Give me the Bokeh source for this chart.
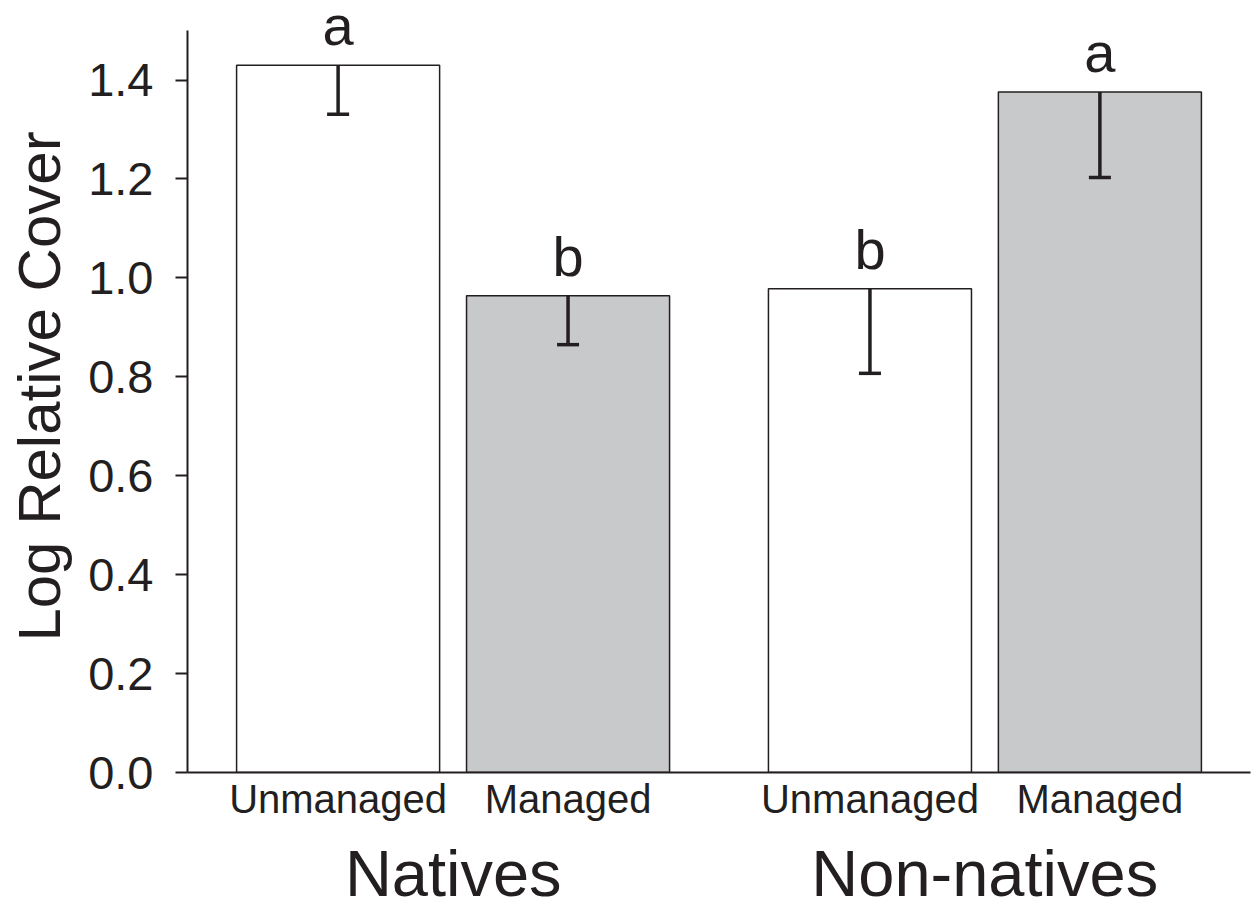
from bokeh.plotting import figure
from bokeh.models import (FactorRange, ColumnDataSource, LabelSet, FixedTicker,
                          PrintfTickFormatter, CategoricalAxis)
from bokeh.core.properties import value
from bokeh.embed import file_html
from bokeh.resources import INLINE

groups = ["Natives", "Natives", "Non-natives", "Non-natives"]
treatments = ["Unmanaged", "Managed", "Unmanaged", "Managed"]
group_names = ["Natives", "Non-natives"]
means = [1.430, 0.964, 0.978, 1.376]
errors = [0.099, 0.099, 0.171, 0.173]
letters = ["a", "b", "b", "a"]
fills = ["#ffffff", "#c8c9cb", "#ffffff", "#c8c9cb"]
y_ticks = [0.0, 0.2, 0.4, 0.6, 0.8, 1.0, 1.2, 1.4]

INK = "#231f20"
FONT = "Liberation Sans"

factors = list(zip(groups, treatments))
src = ColumnDataSource(dict(
    x=factors,
    mean=means,
    lower=[m - e for m, e in zip(means, errors)],
    letter=letters,
    fill=fills,
))

x_range = FactorRange(*factors, group_padding=0.313, range_padding=0.155,
                      range_padding_units="absolute")

p = figure(x_range=x_range, y_range=(0, 1.5608), width=1252, height=912,
           output_backend="svg", toolbar_location=None,
           min_border_left=187, min_border_right=2, min_border_top=0,
           min_border_bottom=140)
p.extra_x_ranges = {"groups": FactorRange(*group_names, range_padding=0)}
p.outline_line_color = None
p.grid.grid_line_color = None
p.background_fill_color = "white"

p.vbar(x="x", top="mean", bottom=0, width=0.883, source=src,
       fill_color="fill", line_color=INK, line_width=1.5)

# one-sided (downward) error bars
p.segment(x0="x", y0="lower", x1="x", y1="mean", source=src,
          line_color=INK, line_width=3.5)
p.scatter(x="x", y="lower", source=src, marker="dash", size=22,
          line_color=INK, line_width=3.5)

labels = LabelSet(x="x", y="mean", text="letter", source=src,
                  text_align="center", text_baseline="alphabetic", y_offset=20,
                  text_font=value(FONT), text_font_size=value("56px"),
                  text_color=INK)
p.add_layout(labels)

ya = p.yaxis[0]
ya.ticker = FixedTicker(ticks=y_ticks)
ya.formatter = PrintfTickFormatter(format="%.1f")
ya.bounds = (0, 1.5)
ya.minor_tick_line_color = None
ya.major_tick_in = 0
ya.major_tick_out = 12
ya.major_tick_line_width = 2
ya.major_tick_line_color = INK
ya.axis_line_color = INK
ya.axis_line_width = 2
ya.major_label_text_font = FONT
ya.major_label_text_font_size = "47px"
ya.major_label_text_color = INK
ya.major_label_standoff = 22
ya.axis_label = "Log Relative Cover"
ya.axis_label_text_font = FONT
ya.axis_label_text_font_size = "60px"
ya.axis_label_text_font_style = "normal"
ya.axis_label_text_color = INK
ya.axis_label_standoff = 12

xa = p.xaxis[0]
xa.major_tick_line_color = None
xa.minor_tick_line_color = None
xa.major_tick_out = 0
xa.axis_line_color = INK
xa.axis_line_width = 2
xa.major_label_text_font = FONT
xa.major_label_text_font_size = "40px"
xa.major_label_text_color = INK
xa.major_label_standoff = 4
xa.major_label_text_line_height = 1.0
xa.group_text_font_size = "0px"
xa.group_text_alpha = 0
xa.separator_line_alpha = 0

ga = CategoricalAxis(x_range_name="groups")
ga.axis_line_color = None
ga.major_tick_line_color = None
ga.minor_tick_line_color = None
ga.major_tick_out = 0
ga.major_label_text_font = FONT
ga.major_label_text_font_size = "65px"
ga.major_label_text_color = INK
ga.major_label_text_line_height = 0.7
ga.major_label_standoff = 13
p.add_layout(ga, "below")

open("out.html", "w").write(file_html(p, INLINE))
